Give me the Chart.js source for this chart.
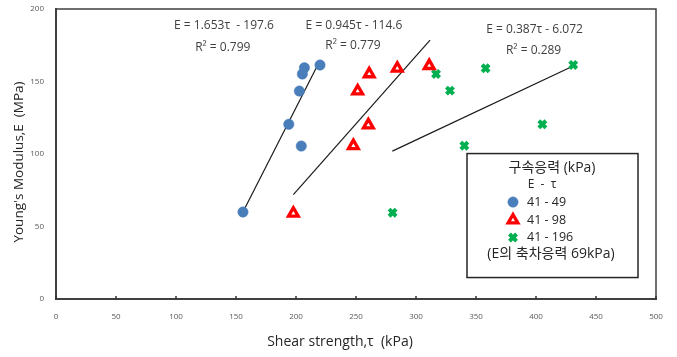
<!DOCTYPE html>
<html>
<head>
<meta charset="utf-8">
<script src="https://cdn.jsdelivr.net/npm/chart.js@4.4.1/dist/chart.umd.min.js"></script>
<style>
  html, body { margin: 0; padding: 0; background: #fff; }
  #wrap { position: relative; width: 677px; height: 357px; }
</style>
</head>
<body>
<div id="wrap"><canvas id="c" width="677" height="357"></canvas></div>
<script>
// ---- data ----
const seriesNames = ['41 - 49', '41 - 98', '41 - 196'];
const blueX  = [155.8, 194.0, 202.8, 205.3, 207.0, 220.0, 204.4];
const blueY  = [60.0, 120.5, 143.4, 155.2, 159.5, 161.4, 105.5];
const redX   = [197.8, 247.8, 260.3, 251.4, 261.0, 284.4, 311.0];
const redY   = [59.1, 105.7, 120.0, 143.4, 155.2, 159.1, 160.9];
const greenX = [316.7, 358.0, 328.3, 431.0, 405.3, 340.3, 280.5];
const greenY = [155.2, 159.1, 143.7, 161.4, 120.5, 105.7, 59.5];
// trend line end points
const blueTrendX  = [155.8, 220.0];
const blueTrendY  = [60.0, 164.5];
const redTrendX   = [197.8, 311.7];
const redTrendY   = [72.0, 178.6];
const greenTrendX = [280.3, 431.0];
const greenTrendY = [102.0, 160.7];
// equation labels
const eqTexts = ['E = 1.653\u03c4  - 197.6', 'E = 0.945\u03c4 - 114.6', 'E = 0.387\u03c4 - 6.072'];
const r2Texts = ['R\u00b2 = 0.799', 'R\u00b2 = 0.779', 'R\u00b2 = 0.289'];
const xTicks = [0, 50, 100, 150, 200, 250, 300, 350, 400, 450, 500];
const yTicks = [0, 50, 100, 150, 200];
const xTitle = 'Shear strength,\u03c4  (kPa)';
const yTitle = "Young's Modulus,E  (MPa)";
const legendTitle = '\uad6c\uc18d\uc751\ub825 (kPa)';
const legendSub = 'E  -  \u03c4';
const legendNote = '(E\uc758 \ucd95\ucc28\uc751\ub825 69kPa)';

const pts = (xs, ys) => xs.map((x, i) => ({ x: x, y: ys[i] }));

const FONT = "'Open Sans', 'Noto Sans CJK KR', sans-serif";
const styles = [
  { pointStyle: 'circle', radius: 5.2, backgroundColor: '#4a7ebb', borderColor: '#4a7ebb', borderWidth: 0.5 },
  { pointStyle: 'triangle', radius: 5.6, backgroundColor: '#ffffff', borderColor: '#ff0000', borderWidth: 3.3 },
  { pointStyle: 'crossRot', radius: 5, backgroundColor: '#00b050', borderColor: '#00b050', borderWidth: 4 }
];

// label placement (data coordinates)
const eqPos = [[140, 188.3], [248.3, 188.3], [398.8, 185.5]];
const r2Pos = [[139, 173.5], [247.5, 174.5], [398, 171]];

const trendDs = (xs, ys) => ({
  type: 'line', data: pts(xs, ys), borderColor: '#1a1a1a', borderWidth: 1.2,
  pointRadius: 0, fill: false, showLine: true, order: 5
});
const scatterDs = (label, xs, ys, s) => ({
  type: 'scatter', label: label, data: pts(xs, ys),
  pointStyle: s.pointStyle, pointRadius: s.radius, pointHoverRadius: s.radius,
  backgroundColor: s.backgroundColor, borderColor: s.borderColor, pointBorderWidth: s.borderWidth,
  borderWidth: s.borderWidth, order: 1
});

const decor = {
  id: 'decor',
  afterDatasetsDraw(chart) {
    const ctx = chart.ctx, xs = chart.scales.x, ys = chart.scales.y, a = chart.chartArea;
    ctx.save();
    // plot frame top/right
    ctx.strokeStyle = '#404040';
    ctx.lineWidth = 1.5;
    ctx.beginPath();
    ctx.moveTo(a.left, a.top); ctx.lineTo(a.right, a.top); ctx.lineTo(a.right, a.bottom);
    ctx.stroke();
    // small inside tick marks on x axis
    ctx.strokeStyle = '#303030';
    xTicks.forEach(v => {
      const px = xs.getPixelForValue(v);
      ctx.beginPath(); ctx.moveTo(px, a.bottom); ctx.lineTo(px, a.bottom - 3); ctx.stroke();
    });
    // axis titles
    ctx.fillStyle = '#262626';
    ctx.textAlign = 'center';
    ctx.textBaseline = 'middle';
    ctx.font = '14px ' + FONT;
    ctx.fillText(xTitle, 340, 342);
    ctx.save();
    ctx.translate(19, 162);
    ctx.rotate(-Math.PI / 2);
    ctx.font = '13.5px ' + FONT;
    ctx.fillText(yTitle, 0, 0);
    ctx.restore();
    // equation labels
    ctx.fillStyle = '#404040';
    ctx.font = '12px ' + FONT;
    eqTexts.forEach((t, i) => ctx.fillText(t, xs.getPixelForValue(eqPos[i][0]), ys.getPixelForValue(eqPos[i][1])));
    r2Texts.forEach((t, i) => ctx.fillText(t, xs.getPixelForValue(r2Pos[i][0]), ys.getPixelForValue(r2Pos[i][1])));
    // legend box
    const bx0 = xs.getPixelForValue(342.5), bx1 = xs.getPixelForValue(485);
    const by0 = ys.getPixelForValue(100.3), by1 = ys.getPixelForValue(14.8);
    ctx.fillStyle = '#ffffff';
    ctx.fillRect(bx0, by0, bx1 - bx0, by1 - by0);
    ctx.strokeStyle = '#262626';
    ctx.lineWidth = 1.5;
    ctx.strokeRect(bx0, by0, bx1 - bx0, by1 - by0);
    ctx.fillStyle = '#262626';
    ctx.textAlign = 'center';
    ctx.font = '14px ' + FONT;
    ctx.fillText(legendTitle, bx0 + 85, by0 + 14.5);
    ctx.font = '12px ' + FONT;
    ctx.fillText(legendSub, bx0 + 75, by0 + 31);
    const rowY = [by0 + 48.5, by0 + 66.5, by0 + 84];
    const markX = bx0 + 46, textX = bx0 + 60;
    styles.forEach((s, i) => {
      ctx.save();
      ctx.fillStyle = s.backgroundColor; ctx.strokeStyle = s.borderColor; ctx.lineWidth = s.borderWidth;
      Chart.helpers.drawPoint(ctx, { pointStyle: s.pointStyle, radius: s.radius, borderWidth: s.borderWidth, rotation: 0 }, markX, rowY[i]);
      ctx.restore();
      ctx.fillStyle = '#262626';
      ctx.textAlign = 'left';
      ctx.font = '12.5px ' + FONT;
      ctx.fillText(seriesNames[i], textX, rowY[i]);
    });
    ctx.textAlign = 'center';
    ctx.font = '14px ' + FONT;
    ctx.fillText(legendNote, bx0 + 84, by0 + 100);
    ctx.restore();
  }
};

new Chart(document.getElementById('c'), {
  data: {
    datasets: [
      trendDs(blueTrendX, blueTrendY),
      trendDs(redTrendX, redTrendY),
      trendDs(greenTrendX, greenTrendY),
      scatterDs(seriesNames[0], blueX, blueY, styles[0]),
      scatterDs(seriesNames[1], redX, redY, styles[1]),
      scatterDs(seriesNames[2], greenX, greenY, styles[2])
    ]
  },
  options: {
    responsive: false,
    animation: false,
    layout: { padding: { top: 9, right: 21, left: 0, bottom: 0 } },
    plugins: { legend: { display: false }, tooltip: { enabled: false } },
    scales: {
      x: {
        type: 'linear', min: 0, max: 500,
        afterBuildTicks: s => { s.ticks = xTicks.map(v => ({ value: v })); },
        afterFit: s => { s.height = 58; },
        grid: { color: 'transparent', drawTicks: true, tickLength: 13, tickColor: 'transparent' },
        border: { display: true, color: '#404040', width: 2 },
        ticks: { color: '#595959', font: { size: 8, family: FONT }, padding: 0, maxRotation: 0 },
        title: { display: false }
      },
      y: {
        type: 'linear', min: 0, max: 200,
        afterBuildTicks: s => { s.ticks = yTicks.map(v => ({ value: v })); },
        afterFit: s => { s.width = 56; },
        grid: { color: 'transparent', drawTicks: true, tickLength: 12, tickColor: 'transparent' },
        border: { display: true, color: '#404040', width: 2 },
        ticks: { color: '#595959', font: { size: 8, family: FONT }, padding: 0 },
        title: { display: false }
      }
    }
  },
  plugins: [decor]
});
</script>
</body>
</html>
